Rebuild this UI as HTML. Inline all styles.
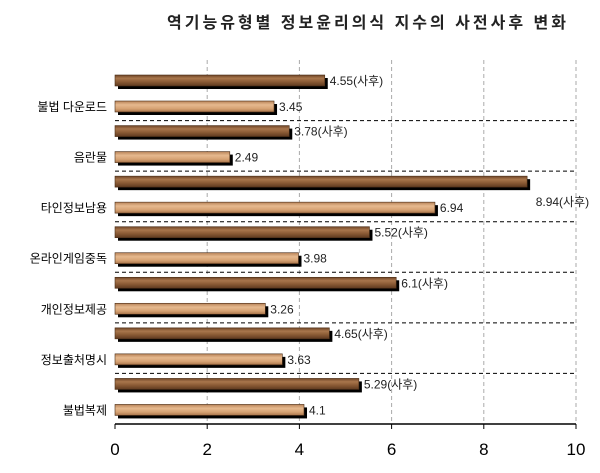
<!DOCTYPE html>
<html><head><meta charset="utf-8"><style>
body{margin:0;background:#fff;}
svg text{font-family:"Liberation Sans","Noto Sans CJK KR",sans-serif;}
</style></head><body>
<svg id="chart" width="600" height="468" xmlns="http://www.w3.org/2000/svg">
<defs>
<linearGradient id="dark" x1="0" y1="0" x2="0" y2="1">
<stop offset="0" stop-color="#6e4426"/><stop offset="0.3" stop-color="#a8764c"/><stop offset="0.6" stop-color="#8c5c36"/><stop offset="1" stop-color="#5e3a20"/>
</linearGradient>
<linearGradient id="light" x1="0" y1="0" x2="0" y2="1">
<stop offset="0" stop-color="#b88358"/><stop offset="0.35" stop-color="#e6b98e"/><stop offset="0.7" stop-color="#d6a273"/><stop offset="1" stop-color="#a8744a"/>
</linearGradient>
</defs>
<text x="368" y="28" text-anchor="middle" font-size="16" font-weight="bold" letter-spacing="3" fill="#222">역기능유형별 정보윤리의식 지수의 사전사후 변화</text>
<g id="grid"></g><g id="bars"></g><g id="axis"></g>
</svg>
<script>
const categories=["불법 다운로드","음란물","타인정보남용","온라인게임중독","개인정보제공","정보출처명시","불법복제"];
const postValues=[4.55,3.78,8.94,5.52,6.1,4.65,5.29];
const preValues=[3.45,2.49,6.94,3.98,3.26,3.63,4.1];
const postLabels=["4.55(사후)","3.78(사후)","8.94(사후)","5.52(사후)","6.1(사후)","4.65(사후)","5.29(사후)"];
const preLabels=["3.45","2.49","6.94","3.98","3.26","3.63","4.1"];
const ticks=[0,2,4,6,8,10];
const NS="http://www.w3.org/2000/svg";
const X0=115,X1=576,TOP=70,BOT=424,MAX=10;
const gh=(BOT-TOP)/categories.length;
const xs=v=>X0+(X1-X0)*v/MAX;
function mk(p,tag,a){const e=document.createElementNS(NS,tag);for(const k in a)e.setAttribute(k,a[k]);p.appendChild(e);return e;}
const grid=document.getElementById('grid'),bars=document.getElementById('bars'),axis=document.getElementById('axis');
ticks.forEach(t=>{if(t>0){const l=mk(grid,'line',{x1:xs(t),x2:xs(t),y1:TOP-10,y2:BOT,stroke:'#aaa','stroke-dasharray':'4,3'});

}
const tk=mk(axis,'line',{x1:xs(t),x2:xs(t),y1:BOT,y2:BOT+5,stroke:'#000'});


const tl=mk(axis,'text',{x:xs(t),y:BOT+31,'text-anchor':'middle','font-size':'17',fill:'#000'});tl.textContent=t;

});
const ax=mk(axis,'line',{x1:X0,x2:X1,y1:BOT,y2:BOT,stroke:'#000','stroke-width':1.5});


categories.forEach((c,i)=>{
 const gy=TOP+i*gh;
 if(i>0){const s=mk(grid,'line',{x1:X0,x2:X1,y1:gy,y2:gy,stroke:'#000','stroke-dasharray':'4,3'});
 
 }
 [[postValues[i],'dark',5,postLabels[i],'post'],[preValues[i],'light',31,preLabels[i],'pre']].forEach(([v,f,off,lab,kind])=>{
  const y=gy+off,w=xs(v)-X0;
  const sh=mk(bars,'rect',{x:X0+3,y:y+3,width:w,height:11,fill:'#000'});
  
  
  const r=mk(bars,'rect',{x:X0,y:y,width:w,height:11,fill:'url(#'+f+')',stroke:'#4a2e18','stroke-width':0.6});
  
  
  let lx=xs(v)+5,ly=y+10,anchor='start';
  if(v>8){lx=xs(v)+62;ly=y+30;anchor='end';}
  const t=mk(bars,'text',{x:lx,y:ly,'font-size':'12',fill:'#222','text-anchor':anchor});t.textContent=lab;
  
  
 });
 const cl=mk(axis,'text',{x:X0-8,y:gy+41,'text-anchor':'end','font-size':'12',fill:'#000'});cl.textContent=c;
 
 
});
</script>
</body></html>
